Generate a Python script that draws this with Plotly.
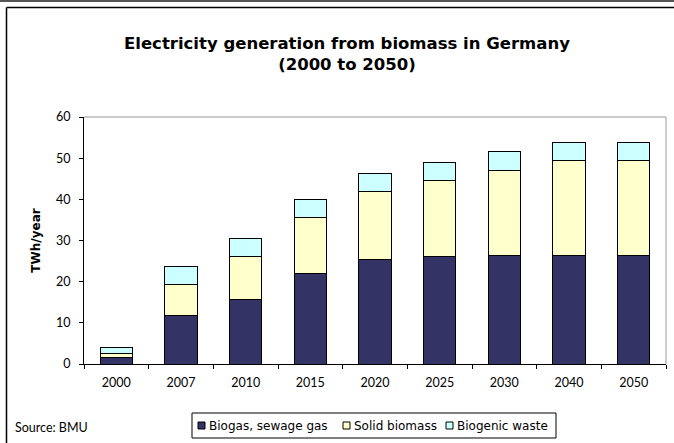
import plotly.graph_objects as go

# Electricity generation from biomass in Germany, TWh/year
years = ["2000", "2007", "2010", "2015", "2020", "2025", "2030", "2040", "2050"]
biogas = [1.7, 11.9, 15.7, 21.9, 25.4, 26.1, 26.3, 26.3, 26.3]
solid_biomass = [0.8, 7.5, 10.4, 13.6, 16.5, 18.5, 20.8, 23.1, 23.1]
biogenic_waste = [1.6, 4.3, 4.3, 4.5, 4.3, 4.4, 4.5, 4.5, 4.5]

series_names = ["Biogas, sewage gas", "Solid biomass", "Biogenic waste"]
series_values = [biogas, solid_biomass, biogenic_waste]
series_colors = ["#333366", "#FFFFCC", "#CCFFFF"]

W, H = 674, 443
L, R, T, B = 84, 8, 117, 79
PW, PH = W - L - R, H - T - B


def px_x(x):
    return (x - L) / PW


def px_y(y):
    return (H - B - y) / PH


FONT = "Lato"
BOLD = "DejaVu Sans"
LEGEND_FONT = "DejaVu Sans"

fig = go.Figure()
for name, vals, color in zip(series_names, series_values, series_colors):
    fig.add_trace(go.Bar(
        x=years, y=vals, name=name, showlegend=False,
        marker=dict(color=color, line=dict(color="black", width=1)),
    ))

fig.update_layout(
    width=W, height=H,
    margin=dict(l=L, r=R, t=T, b=B, pad=0, autoexpand=False),
    barmode="stack", bargap=0.5,
    plot_bgcolor="white", paper_bgcolor="white",
    font=dict(family=FONT, size=12, color="black"),
    xaxis=dict(
        type="category", tickson="boundaries",
        showline=True, linecolor="black", linewidth=1,
        ticks="outside", ticklen=4, tickcolor="black",
        showgrid=False, tickfont=dict(size=12.5),
        ticklabelstandoff=7,
    ),
    yaxis=dict(
        range=[0, 60], dtick=10,
        showline=True, linecolor="black", linewidth=1,
        ticks="outside", ticklen=4, tickcolor="black",
        showgrid=False, zeroline=False, tickfont=dict(size=12.5),
        ticklabelstandoff=6,
        title=dict(text="<b>TWh/year</b>",
                   font=dict(family=BOLD, size=12), standoff=12),
    ),
)

# Plot area border on the top and right sides
fig.add_shape(type="line", xref="paper", yref="paper", x0=0, x1=1, y0=1, y1=1,
              line=dict(color="#999999", width=1))
fig.add_shape(type="line", xref="paper", yref="paper", x0=1, x1=1, y0=0, y1=1,
              line=dict(color="#999999", width=1))

# Page frame: grey rule at the top, black frame on top and left
fig.add_shape(type="line", xref="paper", yref="paper",
              x0=px_x(0), x1=px_x(W), y0=px_y(1), y1=px_y(1),
              line=dict(color="#555555", width=2))
fig.add_shape(type="line", xref="paper", yref="paper",
              x0=px_x(6.5), x1=px_x(W), y0=px_y(7.5), y1=px_y(7.5),
              line=dict(color="black", width=1.5))
fig.add_shape(type="line", xref="paper", yref="paper",
              x0=px_x(6.5), x1=px_x(6.5), y0=px_y(7.5), y1=px_y(H),
              line=dict(color="black", width=1.5))

fig.add_annotation(
    text="<b>Electricity generation from biomass in Germany<br>(2000 to 2050)</b>",
    xref="paper", yref="paper", x=px_x(347), y=px_y(54),
    xanchor="center", yanchor="middle", showarrow=False,
    font=dict(family=BOLD, size=16.5, color="black"),
)
fig.add_annotation(
    text="Source: BMU", xref="paper", yref="paper",
    x=px_x(13), y=px_y(427), xanchor="left", yanchor="middle",
    showarrow=False, font=dict(family=FONT, size=12.5, color="black"),
)

# Legend box with a small swatch before each series name
fig.add_shape(type="rect", xref="paper", yref="paper",
              x0=px_x(192), x1=px_x(556), y0=px_y(413), y1=px_y(438),
              line=dict(color="black", width=1), fillcolor="white")
swatch_left = [198, 343, 446]
for name, color, sx in zip(series_names, series_colors, swatch_left):
    fig.add_shape(type="rect", xref="paper", yref="paper",
                  x0=px_x(sx), x1=px_x(sx + 7), y0=px_y(422), y1=px_y(429),
                  line=dict(color="black", width=1), fillcolor=color)
    fig.add_annotation(
        text=name, xref="paper", yref="paper",
        x=px_x(sx + 9), y=px_y(425.5), xanchor="left", yanchor="middle",
        showarrow=False, font=dict(family=LEGEND_FONT, size=12, color="black"),
    )

fig.write_html("out.html")
